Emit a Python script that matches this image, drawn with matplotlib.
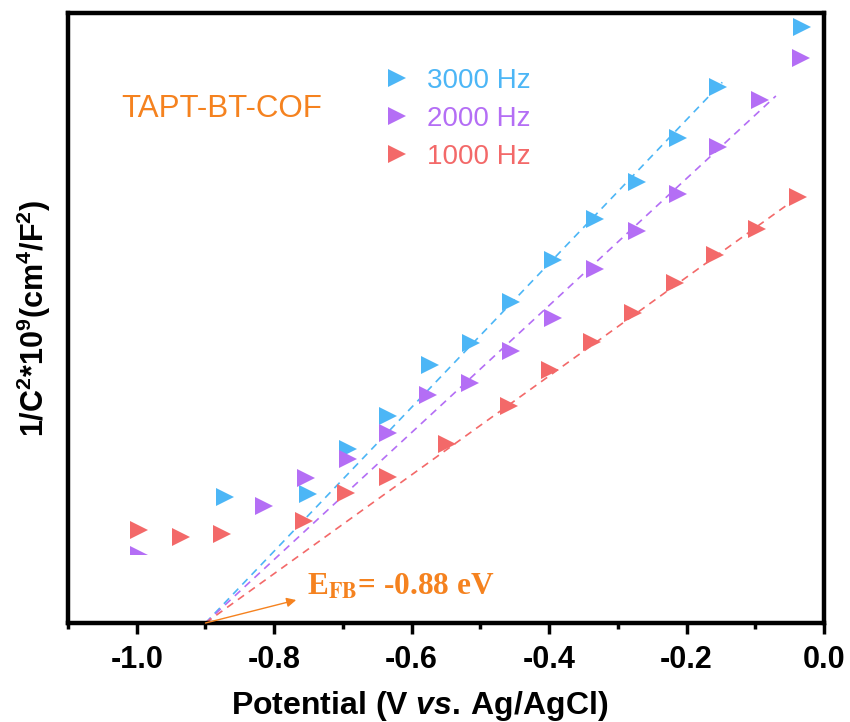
import matplotlib
matplotlib.use("Agg")
import matplotlib.pyplot as plt
import numpy as np
from matplotlib.ticker import MultipleLocator

plt.rcParams['font.family'] = ['Liberation Sans', 'DejaVu Sans']
plt.rcParams['mathtext.fontset'] = 'custom'
plt.rcParams['mathtext.rm'] = 'Liberation Sans:bold'
plt.rcParams['mathtext.bf'] = 'Liberation Sans:bold'
plt.rcParams['mathtext.it'] = 'Liberation Sans:bold:italic'

# ---- data (arbitrary 1/C^2 units) ----
labels = ["3000 Hz", "2000 Hz", "1000 Hz"]
colors = ["#4CB6F6", "#B46EF5", "#F36969"]

x_3000 = [-0.872, -0.751, -0.692, -0.634, -0.573, -0.513, -0.455, -0.394, -0.333, -0.272, -0.212, -0.154, -0.032]
y_3000 = [1.26, 1.29, 1.74, 2.07, 2.58, 2.80, 3.21, 3.63, 4.04, 4.41, 4.85, 5.36, 5.96]

x_2000 = [-0.996, -0.815, -0.754, -0.693, -0.635, -0.576, -0.515, -0.456, -0.394, -0.333, -0.272, -0.212, -0.154, -0.093, -0.033]
y_2000 = [0.68, 1.17, 1.45, 1.64, 1.90, 2.28, 2.40, 2.72, 3.05, 3.54, 3.92, 4.29, 4.76, 5.23, 5.65]

x_1000 = [-0.996, -0.936, -0.876, -0.757, -0.696, -0.635, -0.548, -0.458, -0.398, -0.337, -0.278, -0.217, -0.158, -0.097, -0.038]
y_1000 = [0.93, 0.86, 0.89, 1.02, 1.30, 1.46, 1.79, 2.17, 2.53, 2.81, 3.10, 3.40, 3.68, 3.94, 4.26]

# linear (Mott-Schottky) fits: x-intercept, end potential, slope
fit_x0 = [-0.90, -0.90, -0.90]
fit_x1 = [-0.148, -0.07, -0.04]
fit_slope = [7.19, 6.35, 4.94]

efb_value = -0.88
xticks = [-1.0, -0.8, -0.6, -0.4, -0.2, 0.0]

xs = [x_3000, x_2000, x_1000]
ys = [y_3000, y_2000, y_1000]

fig = plt.figure(figsize=(8.5, 7.22), dpi=100)
ax = fig.add_axes([0.080, 0.1371, 0.8894, 0.8449])

for i in range(3):
    fx = np.array([fit_x0[i], fit_x1[i]])
    fy = fit_slope[i] * (fx - fit_x0[i])
    ax.plot(fx, fy, linestyle=(0, (4.5, 3.5)), color=colors[i], lw=1.2, zorder=2)

handles = []
for i in range(3):
    x = np.array(xs[i]); y = np.array(ys[i])
    if i == 1:
        # first point partly hidden at the bottom
        ax.plot(x[:1], y[:1], linestyle='none', marker='>', ms=12.5, mfc=colors[i],
                fillstyle='top', markerfacecoloralt='none', mew=0, zorder=3)
        x = x[1:]; y = y[1:]
    h, = ax.plot(x, y, linestyle='none', marker='>', ms=12.5, color=colors[i], mew=0,
                 label=labels[i], zorder=3)
    handles.append(h)

ax.set_xlim(-1.1, 0.0)
ax.set_ylim(0, 6.10)
ax.set_yticks([])
ax.set_xticks(xticks)
ax.set_xticklabels([f"{t:.1f}" for t in xticks])
ax.xaxis.set_minor_locator(MultipleLocator(0.1))
ax.tick_params(axis='x', which='major', direction='out', length=8, width=2.5,
               labelsize=22, pad=8)
ax.tick_params(axis='x', which='minor', direction='out', length=4.5, width=2.5)
for lab in ax.get_xticklabels():
    lab.set_fontweight('bold')
for s in ax.spines.values():
    s.set_linewidth(3.2)

ax.set_xlabel(r"Potential (V $\mathit{vs.}\,$Ag/AgCl)", fontsize=23, fontweight='bold')
ax.xaxis.set_label_coords(0.465, -0.108)
ax.set_ylabel(r"1/C$^{2}$*10$^{9}$(cm$^{4}$/F$^{2}$)", fontsize=22, fontweight='bold')
ax.yaxis.set_label_coords(-0.020, 0.5)

leg = ax.legend(handles=handles, loc='upper left', bbox_to_anchor=(0.402, 0.928),
                frameon=False, fontsize=20, numpoints=1, handlelength=1.0,
                handletextpad=0.58, labelspacing=0.43, borderaxespad=0)
for t, c in zip(leg.get_texts(), colors):
    t.set_color(c)

ax.text(0.071, 0.843, "TAPT-BT-COF", transform=ax.transAxes, fontsize=22.5,
        color='#F5821F', ha='left', va='center')

ax.annotate("", xy=(-0.768, 0.23), xytext=(fit_x0[0], 0.0),
            arrowprops=dict(arrowstyle='-|>', color='#F5821F', lw=1.0, mutation_scale=14,
                            shrinkA=0, shrinkB=0), zorder=4)
ax.text(-0.752, 0.28, r"E$_{\mathbf{FB}}$= " + f"{efb_value:.2f} eV", fontsize=22.5,
        color='#F5821F', fontweight='bold', family='Liberation Serif',
        math_fontfamily='stix', ha='left', va='baseline')

fig.savefig("out.png", dpi=100)
